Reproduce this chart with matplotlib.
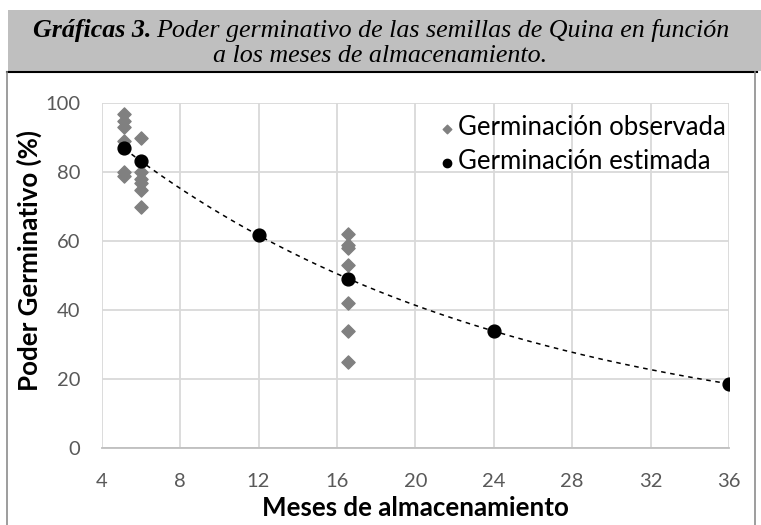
import numpy as np
import matplotlib
matplotlib.use('Agg')
import matplotlib.pyplot as plt
from matplotlib.patches import Rectangle
from matplotlib.lines import Line2D

'''
DATA
'''
obs_x = [5.15]*6 + [6]*6 + [16.55]*7
obs_y = [97, 95, 93, 89, 80, 79,
         90, 80, 78, 77, 75, 70,
         62, 59, 58, 53, 42, 34, 25]
est_x = [5.15, 6, 12, 16.55, 24, 36]
est_y = [87, 83.2, 61.8, 49, 34, 18.7]
xticks = [4, 8, 12, 16, 20, 24, 28, 32, 36]
yticks = [0, 20, 40, 60, 80, 100]

W, H = 761, 525
fig = plt.figure(figsize=(W/100, H/100), dpi=100)

def fx(px):
    return px / W

def fy(py):
    return 1 - py / H

# title banner
fig.patches.append(Rectangle((fx(8), fy(71)), fx(753), 61/H, transform=fig.transFigure,
                             facecolor='#bfbfbf', edgecolor='none', zorder=0))
fig.lines.append(Line2D([fx(7), fx(757)], [fy(71.5), fy(71.5)], transform=fig.transFigure,
                        color='black', lw=1.5))
# chart frame
fig.lines.append(Line2D([fx(7), fx(7)], [fy(72), 0], transform=fig.transFigure, color='#8c8c8c', lw=1.2))
fig.lines.append(Line2D([fx(755), fx(755)], [fy(72), 0], transform=fig.transFigure, color='#8c8c8c', lw=1.2))

tsize = 18.7
t1 = fig.text(fx(33), fy(31), 'Gráficas 3.', family='Liberation Serif', style='italic',
              weight='bold', fontsize=tsize, va='center', ha='left')
fig.canvas.draw()
bb = t1.get_window_extent()
fig.text(bb.x1 / W + 5/W, fy(31), 'Poder germinativo de las semillas de Quina en función',
         family='Liberation Serif', style='italic', fontsize=tsize, va='center', ha='left')
fig.text(0.5, fy(56), 'a los meses de almacenamiento.', family='Liberation Serif',
         style='italic', fontsize=tsize, va='center', ha='center')

ax = fig.add_axes([fx(101.7), fy(448.3), (729 - 101.7)/W, (448.3 - 103.3)/H])
ax.set_xlim(4, 36)
ax.set_ylim(0, 100)
ax.set_xticks(xticks)
ax.set_yticks(yticks)
ax.grid(True, color='#d9d9d9', lw=1.3)
ax.set_axisbelow(True)
for s in ['top', 'right', 'left']:
    ax.spines[s].set_visible(False)
ax.spines['bottom'].set_color('#bfbfbf')
ax.spines['bottom'].set_linewidth(1.3)
ax.tick_params(length=0, labelsize=14.5, labelcolor='#595959')
ax.tick_params(axis='x', pad=18)
ax.tick_params(axis='y', pad=15.5)
for lab in ax.get_xticklabels() + ax.get_yticklabels():
    lab.set_family('Lato')

# trendline (exponential fit of the estimated values)
b, a = np.polyfit(est_x, np.log(est_y), 1)
xx = np.linspace(est_x[0], est_x[-1], 200)
ax.plot(xx, np.exp(a) * np.exp(b * xx), ls=(0, (3, 3)), color='black', lw=1.1, zorder=2)

ax.scatter(obs_x, obs_y, marker='D', s=45, color='#808080', zorder=3,
           label='Germinación observada')
ax.scatter(est_x, est_y, marker='o', s=85, color='black', zorder=4,
           label='Germinación estimada')

leg = ax.legend(loc='upper right', bbox_to_anchor=(1.02, 1.01), frameon=False,
                handletextpad=0.0, handlelength=0.9, markerscale=0.65, borderaxespad=0.2,
                labelspacing=0.35, prop={'family': 'Lato', 'size': 18.5})

ax.set_xlabel('Meses de almacenamiento', family='Lato', weight='bold', fontsize=18.6, labelpad=4)
ax.set_ylabel('Poder Germinativo (%)', family='Lato', weight='bold', fontsize=18.6, labelpad=1)
ax.yaxis.set_label_coords(-0.095, 0.543)

fig.savefig('out.png', dpi=100)
